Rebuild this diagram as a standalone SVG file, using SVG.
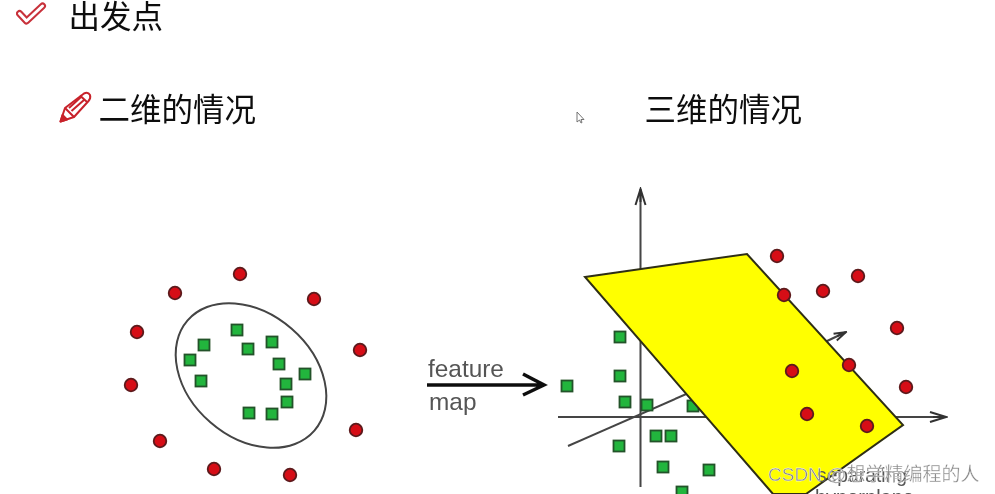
<svg xmlns="http://www.w3.org/2000/svg" width="995" height="494" viewBox="0 0 995 494">
<style>
.cjk{font-family:"Noto Sans CJK SC","Liberation Sans",sans-serif;font-size:31.500px;fill:#111}
.lat{font-family:"Liberation Sans",Arial,sans-serif}
.r{fill:#d60a14;stroke:#5c1a1c;stroke-width:1.8}
.g{fill:#22b53c;stroke:#24522c;stroke-width:1.8}
.ax{fill:none;stroke:#444;stroke-width:2}
</style>
<defs>
<filter id="soft" x="-5%" y="-5%" width="110%" height="110%"><feGaussianBlur stdDeviation="0.55"/></filter>
<rect id="s" class="g" x="-5.500" y="-5.500" width="11" height="11"/>
<circle id="c" class="r" r="6.300"/>
<marker id="open" viewBox="0 0 20 14" refX="18" refY="7" markerWidth="20" markerHeight="14" markerUnits="userSpaceOnUse" orient="auto"><path d="M2 2 L18 7 L2 12 M5 7 H18" fill="none" stroke="#333" stroke-width="2"/></marker>
<marker id="open-small" viewBox="0 0 20 14" refX="18" refY="7" markerWidth="15" markerHeight="10.500" markerUnits="userSpaceOnUse" orient="auto"><path d="M2 2 L18 7 L2 12 M5 7 H18" fill="none" stroke="#333" stroke-width="2.500"/></marker>
</defs>
<rect width="995" height="494" fill="#fff"/>
<g filter="url(#soft)">
<g id="icon-check" fill="none" stroke-linejoin="round" stroke-linecap="round">
<path d="M19.500 13.500 L26.500 21 L42.500 6" stroke="#c8303a" stroke-width="7"/>
<path d="M19.500 13.500 L26.500 21 L42.500 6" stroke="#fff" stroke-width="3"/>
</g>
<text id="title" class="cjk" x="68.500" y="28">出发点</text>
<g id="icon-pencil" fill="none" stroke="#c8222c" stroke-width="2" stroke-linejoin="round">
<path d="M60.500 121.500 L65 108 L84 93.500 Q88 91.500 90 95 Q91 98 88.500 101 L74 117 Z"/>
<path d="M65 108 L74 117 M69 108 L81 97 M71.500 111 L84 100 M80 95.500 L87 102"/>
<path d="M60.500 121.500 L62.500 115 L67 119.500 Z" fill="#c8222c"/>
</g>
<text id="label-2d" class="cjk" x="98.500" y="121">二维的情况</text>
<text id="label-3d" class="cjk" x="644.500" y="121">三维的情况</text>
<path id="cursor" d="M577 112 V122 L579.500 120 L581 123 L582 122.500 L581 119.500 H584 Z" fill="#fff" stroke="#666" stroke-width="0.9"/>

<g id="plot-2d">
<ellipse cx="251" cy="375.500" rx="84" ry="62" transform="rotate(41 251 375.500)" fill="none" stroke="#444" stroke-width="2"/>
<g id="squares-2d">
<use href="#s" x="237" y="330"/><use href="#s" x="204" y="345"/><use href="#s" x="248" y="349"/><use href="#s" x="272" y="342"/><use href="#s" x="190" y="360"/><use href="#s" x="279" y="364"/><use href="#s" x="305" y="374"/><use href="#s" x="201" y="381"/><use href="#s" x="286" y="384"/><use href="#s" x="287" y="402"/><use href="#s" x="249" y="413"/><use href="#s" x="272" y="414"/>
</g>
<g id="circles-2d">
<use href="#c" x="240" y="274"/><use href="#c" x="175" y="293"/><use href="#c" x="314" y="299"/><use href="#c" x="137" y="332"/><use href="#c" x="360" y="350"/><use href="#c" x="131" y="385"/><use href="#c" x="356" y="430"/><use href="#c" x="160" y="441"/><use href="#c" x="214" y="469"/><use href="#c" x="290" y="475"/>
</g>
</g>

<g id="feature-map">
<text class="lat" x="428" y="377" font-size="24.400" fill="#555">feature</text>
<text class="lat" x="429" y="410" font-size="24.400" fill="#555">map</text>
<path d="M427 385 H543 M523 374 L544 385 L523 395" fill="none" stroke="#111" stroke-width="3.500"/>
</g>

<g id="plot-3d">
<g id="connectors">
<path class="ax" d="M640.500 487 V189" marker-end="url(#open)"/>
<path class="ax" d="M558 417 H946" marker-end="url(#open)"/>
<path class="ax" d="M568 446 L700 388"/>
<path class="ax" d="M825 342 L846 332" marker-end="url(#open-small)"/>
</g>
<g id="squares-3d">
<use href="#s" x="620" y="337"/><use href="#s" x="620" y="376"/><use href="#s" x="567" y="386"/><use href="#s" x="625" y="402"/><use href="#s" x="647" y="405"/><use href="#s" x="693" y="406"/><use href="#s" x="656" y="436"/><use href="#s" x="671" y="436"/><use href="#s" x="619" y="446"/><use href="#s" x="663" y="467"/><use href="#s" x="709" y="470"/><use href="#s" x="682" y="492"/>
</g>
<path id="hyperplane" d="M585 277 L747 254 L903 425 L806 494 L773 494 Z" fill="#ffff00" stroke="#2e2e14" stroke-width="2"/>
<g id="circles-3d">
<use href="#c" x="777" y="256"/><use href="#c" x="858" y="276"/><use href="#c" x="823" y="291"/><use href="#c" x="784" y="295"/><use href="#c" x="897" y="328"/><use href="#c" x="849" y="365"/><use href="#c" x="792" y="371"/><use href="#c" x="906" y="387"/><use href="#c" x="807" y="414"/><use href="#c" x="867" y="426"/>
</g>
<text class="lat" x="817" y="482" font-size="19.300" fill="#555">separating</text>
<text class="lat" x="815" y="504" font-size="20" fill="#555">hyperplane</text>
</g>
</g>
<text id="watermark" x="768" y="481" font-size="19" font-family="'Liberation Sans','Noto Sans CJK SC',sans-serif" fill="#8a8a8a" stroke="#fff" stroke-width="0.300">CSDN @想学精编程的人</text>
</svg>
